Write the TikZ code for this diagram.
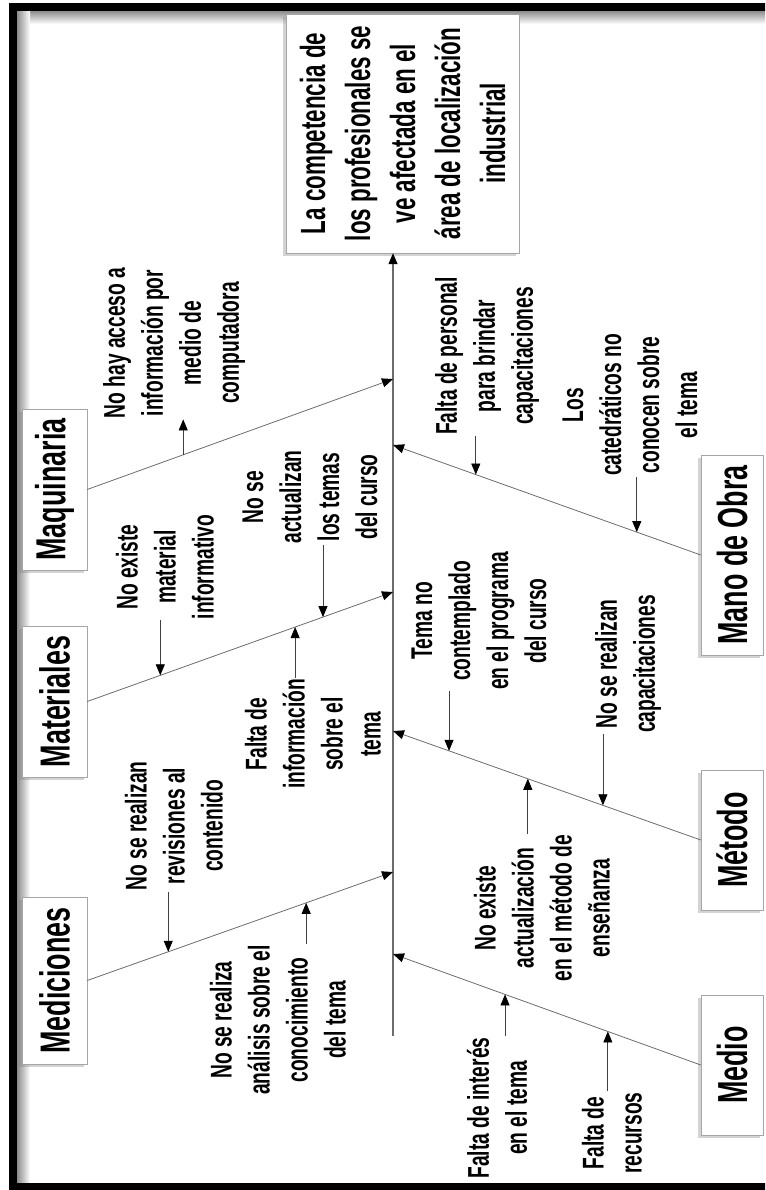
\documentclass[tikz,border=0pt]{standalone}
\usepackage{fontspec}
\setmainfont{Liberation Sans}[FakeStretch=0.64]
\usepackage{tikz}
\usetikzlibrary{arrows.meta,positioning,calc,shadows}

\begin{document}
\begin{tikzpicture}[x=1pt,y=-1pt,>={Triangle[length=11pt,width=9pt,black]},
    box/.style={draw=gray!70,fill=white,rotate=90,inner sep=0pt,
      drop shadow={shadow xshift=-3pt,shadow yshift=-3pt,opacity=.35}},
    cat/.style={box,font=\fontsize{42}{48}\selectfont\bfseries},
    effectbox/.style={box,align=center,font=\fontsize{35}{45}\selectfont\bfseries},
    cause/.style={rotate=90,align=center,inner sep=1pt,font=\fontsize{30}{38}\selectfont\bfseries},
    bone/.style={->,draw=gray!85!black,line width=.8pt},
    sub/.style={->,draw=black!75,line width=.8pt}]
  \useasboundingbox (0,0) rectangle (765,1190);
  \clip (0,0) rectangle (765,1190);
  % frame
  \shade[top color=black!45,bottom color=white] (17,11) rectangle (765,24);
  \shade[left color=black!45,right color=white] (17,11) rectangle (30,1183);
  \draw[line width=8pt] (13,7) rectangle (790,1187);

  % effect and spine
  \node[effectbox,minimum width=239,minimum height=233] (effect) at (402.5,133.5)
    {La competencia de\\los profesionales se\\ve afectada en el\\área de localización\\industrial};
  \coordinate (tail) at (393,1036);
  \draw[bone,line width=1.1pt] (tail) -- (tail |- effect.west);
  \coordinate (k1) at (393,379);
  \coordinate (k2) at (393,592);
  \coordinate (k3) at (393,872);
  \coordinate (k4) at (393,445);
  \coordinate (k5) at (393,731);
  \coordinate (k6) at (393,954);

  % categories
  \node[cat,minimum width=161,minimum height=65] (maq) at (54.5,489.5) {Maquinaria};
  \node[cat,minimum width=151,minimum height=65] (mat) at (54.5,701.5) {Materiales};
  \node[cat,minimum width=167,minimum height=65] (med) at (54.5,980.5) {Mediciones};
  \node[cat,minimum width=200,minimum height=62] (mano) at (732,555) {Mano de Obra};
  \node[cat,minimum width=140,minimum height=62] (met) at (732,840) {Método};
  \node[cat,minimum width=140,minimum height=62] (medio) at (732,1065) {Medio};

  % bones
  \draw[bone] (maq.south) -- (k1) coordinate[pos=.314] (m1);
  \draw[bone] (mat.south) -- (k2) coordinate[pos=.239] (m2) coordinate[pos=.771] (m3) coordinate[pos=.680] (m4);
  \draw[bone] (med.south) -- (k3) coordinate[pos=.265] (m5) coordinate[pos=.716] (m6);
  \draw[bone] (mano.north) -- (k4) coordinate[pos=.731] (m7) coordinate[pos=.208] (m8);
  \draw[bone] (met.north) -- (k5) coordinate[pos=.818] (m9) coordinate[pos=.318] (m10) coordinate[pos=.562] (m11);
  \draw[bone] (medio.north) -- (k6) coordinate[pos=.636] (m12) coordinate[pos=.302] (m13);

  % causes
  \node[cause] (t1) at (174,343) {No hay acceso a\\información por\\medio de\\computadora};
  \node[cause] (t2) at (165,567) {No existe\\material\\informativo};
  \node[cause] (t3) at (310,497) {No se\\actualizan\\los temas\\del curso};
  \node[cause] (t4) at (313,734) {Falta de\\información\\sobre el\\tema};
  \node[cause] (t5) at (174,826) {No se realizan\\revisiones al\\contenido};
  \node[cause] (t6) at (278,1020) {No se realiza\\análisis sobre el\\conocimiento\\del tema};
  \node[cause] (t7) at (487,356) {Falta de personal\\para brindar\\capacitaciones};
  \node[cause] (t8) at (630,405) {Los\\catedráticos no\\conocen sobre\\el tema};
  \node[cause] (t9) at (479,621) {Tema no\\contemplado\\en el programa\\del curso};
  \node[cause] (t10) at (628,664) {No se realizan\\capacitaciones};
  \node[cause] (t11) at (542,908) {No existe\\actualización\\en el método de\\enseñanza};
  \node[cause] (t12) at (497,1108) {Falta de interés\\en el tema};
  \node[cause] (t13) at (612,1133) {Falta de\\recursos};

  \draw[sub] (m1) -- (m1 |- t1.west);
  \draw[sub] (m2 |- t2.west) -- (m2);
  \draw[sub] (m3 |- t3.west) -- (m3);
  \draw[sub] (m4 |- t4.east) -- (m4);
  \draw[sub] (m5 |- t5.west) -- (m5);
  \draw[sub] (m6 |- t6.east) -- (m6);
  \draw[sub] (m7 |- t7.west) -- (m7);
  \draw[sub] (m8 |- t8.west) -- (m8);
  \draw[sub] (m9 |- t9.west) -- (m9);
  \draw[sub] (m10 |- t10.west) -- (m10);
  \draw[sub] (m11 |- t11.east) -- (m11);
  \draw[sub] (m12 |- t12.east) -- (m12);
  \draw[sub] (m13 |- t13.east) -- (m13);
\end{tikzpicture}
\end{document}
